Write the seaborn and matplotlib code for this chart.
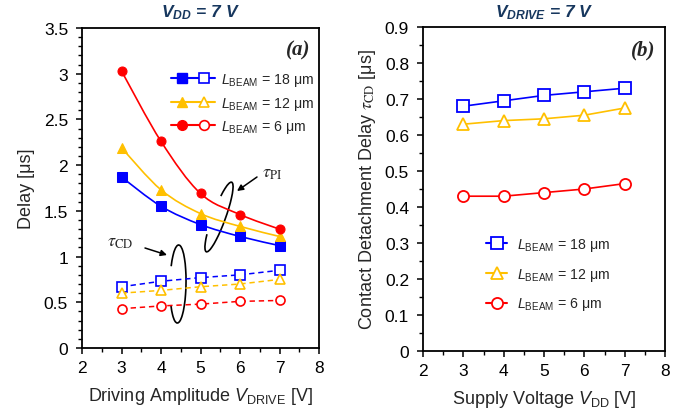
import numpy as np
import matplotlib
matplotlib.use("Agg")
import matplotlib.pyplot as plt
import matplotlib.transforms as mtransforms
from matplotlib.path import Path
from matplotlib.patches import PathPatch, Arc
from matplotlib.lines import Line2D
from matplotlib.legend_handler import HandlerTuple
import seaborn as sns

# ---- data ----
v_drive = [3, 4, 5, 6, 7]
v_dd = [3, 4, 5, 6, 7]

# (a) pull-in delay tau_PI (solid, filled markers)
pi_18 = [1.87, 1.55, 1.35, 1.22, 1.12]
pi_12 = [2.19, 1.73, 1.47, 1.33, 1.22]
pi_6 = [3.03, 2.26, 1.69, 1.46, 1.30]

# (a) contact detachment delay tau_CD (dashed, open markers)
cd_18 = [0.67, 0.73, 0.77, 0.80, 0.85]
cd_12 = [0.60, 0.63, 0.67, 0.70, 0.75]
cd_6 = [0.43, 0.46, 0.48, 0.51, 0.52]

# (b) tau_CD vs supply voltage
b_18 = [0.68, 0.695, 0.71, 0.72, 0.73]
b_12 = [0.63, 0.64, 0.645, 0.655, 0.675]
b_6 = [0.43, 0.43, 0.44, 0.45, 0.465]

labels = [r"$\mathit{L}_{\mathrm{BEAM}}$ = 18 μm",
          r"$\mathit{L}_{\mathrm{BEAM}}$ = 12 μm",
          r"$\mathit{L}_{\mathrm{BEAM}}$ = 6 μm"]

BLUE = "#0000FF"
YELLOW = "#FFC000"
RED = "#FF0000"
NAVY = "#17375E"
colors = [BLUE, YELLOW, RED]
markers = ["s", "^", "o"]

sns.set_theme(style="ticks")
plt.rcParams["font.family"] = ["Liberation Sans", "DejaVu Sans"]
plt.rcParams.update({
    "mathtext.fontset": "custom",
    "mathtext.rm": "Liberation Sans",
    "mathtext.it": "Liberation Sans:italic",
    "mathtext.bf": "Liberation Sans:bold",
    "mathtext.bfit": "Liberation Sans:italic:bold",
    "axes.edgecolor": "black",
    "axes.linewidth": 1.3,
    "xtick.color": "black",
    "ytick.color": "black",
    "xtick.major.size": 4,
    "ytick.major.size": 4,
    "xtick.minor.size": 3,
    "ytick.minor.size": 3,
    "xtick.major.width": 1.1,
    "ytick.major.width": 1.1,
    "xtick.minor.width": 1.0,
    "ytick.minor.width": 1.0,
})


def smooth_path(x, y):
    # Excel-like smoothed line: Catmull-Rom converted to cubic Beziers
    pts = np.column_stack([x, y]).astype(float)
    ext = np.vstack([pts[0], pts, pts[-1]])
    verts = [pts[0]]
    codes = [Path.MOVETO]
    for i in range(1, len(ext) - 2):
        p0, p1, p2, p3 = ext[i - 1], ext[i], ext[i + 1], ext[i + 2]
        verts += [p1 + (p2 - p0) / 6, p2 - (p3 - p1) / 6, p2]
        codes += [Path.CURVE4] * 3
    return Path(verts, codes)


fig = plt.figure(figsize=(6.93, 4.14), dpi=100)
W, H = 693, 414
ax1 = fig.add_axes([82 / W, 1 - 349 / H, 237 / W, 320 / H])
ax2 = fig.add_axes([423 / W, 1 - 352 / H, 242 / W, 324 / H])

# ---------------- panel (a) ----------------
for ys, c, m in zip([pi_18, pi_12, pi_6], colors, markers):
    ax1.add_patch(PathPatch(smooth_path(v_drive, ys), fill=False,
                            edgecolor=c, lw=1.2, zorder=2))
    sns.lineplot(x=v_drive, y=ys, ax=ax1, color=c, linestyle="none",
                 marker=m, markersize=6.5, markerfacecolor=c,
                 markeredgecolor=c, zorder=3)

for ys, c, m in zip([cd_18, cd_12, cd_6], colors, markers):
    sns.lineplot(x=v_drive, y=ys, ax=ax1, color=c, lw=1.1,
                 dashes=(3.5, 2.5), marker=m, markersize=6.5,
                 markerfacecolor="white", markeredgecolor=c,
                 markeredgewidth=1.2, zorder=3)

ax1.set_xlim(2, 8)
ax1.set_ylim(0, 3.5)
ax1.set_xticks(range(2, 9))
ax1.set_xticks(np.arange(2, 8.01, 0.5), minor=True)
ax1.set_yticks(np.arange(0, 3.51, 0.5))
ax1.set_yticks(np.arange(0, 3.51, 0.1), minor=True)
ax1.set_yticklabels(["0", "0.5", "1", "1.5", "2", "2.5", "3", "3.5"])
ax1.set_xlabel(r"Driving Amplitude $\mathit{V}_{\mathrm{DRIVE}}$ [V]",
               fontsize=13, labelpad=7)
ax1.set_ylabel("Delay [μs]", fontsize=13, labelpad=6)
ax1.text(0.962, 0.934, "(a)", transform=ax1.transAxes, ha="right",
         va="center", fontsize=15, fontweight="bold", style="italic",
         family="Liberation Serif")

handles = []
for c, m in zip(colors, markers):
    h_fill = Line2D([], [], color=c, lw=1.5, marker=m, markersize=7,
                    markerfacecolor=c, markeredgecolor=c)
    h_open = Line2D([], [], color=c, lw=1.5, marker=m, markersize=7,
                    markerfacecolor="white", markeredgecolor=c,
                    markeredgewidth=1.2)
    handles.append((h_fill, h_open))
ax1.legend(handles, labels, handler_map={tuple: HandlerTuple(ndivide=2, pad=0)},
           numpoints=1, loc="upper left", bbox_to_anchor=(0.376, 0.865),
           frameon=False, fontsize=10.2, handlelength=3.1, handletextpad=0.45,
           borderpad=0, borderaxespad=0, labelspacing=0.45)

# annotation loops (drawn in pixel space so the tilt matches the reference)
for (cx, cy, w, h, ang, t1, t2) in [(219, 218, 74, 13, 70, 165, 375),
                                    (178, 285, 78, 16, 89, 163, 382)]:
    ax1.add_patch(Arc((cx, H - cy), w, h, angle=ang, theta1=t1, theta2=t2,
                      transform=mtransforms.IdentityTransform(),
                      color="black", lw=1.2, clip_on=False))

px2data = ax1.transData.inverted()
def pxd(x, y):
    return tuple(px2data.transform((x, H - y)))

ax1.annotate("", xy=pxd(237, 192), xytext=pxd(257, 178),
             arrowprops=dict(arrowstyle="-|>", color="black", lw=1.1,
                             mutation_scale=9, shrinkA=0, shrinkB=0))
ax1.annotate("", xy=pxd(167, 256), xytext=pxd(145, 249),
             arrowprops=dict(arrowstyle="-|>", color="black", lw=1.1,
                             mutation_scale=9, shrinkA=0, shrinkB=0))
ax1.text(*pxd(262, 178), r"$\tau_{\mathrm{PI}}$", fontsize=13,
         math_fontfamily="stix", ha="left", va="baseline")
ax1.text(*pxd(107, 247), r"$\tau_{\mathrm{CD}}$", fontsize=13,
         math_fontfamily="stix", ha="left", va="baseline")

# ---------------- panel (b) ----------------
for ys, c, m in zip([b_18, b_12, b_6], colors, markers):
    sns.lineplot(x=v_dd, y=ys, ax=ax2, color=c, lw=1.2, marker=m,
                 markersize=8, markerfacecolor="white", markeredgecolor=c,
                 markeredgewidth=1.3, zorder=3)

ax2.set_xlim(2, 8)
ax2.set_ylim(0, 0.9)
ax2.set_xticks(range(2, 9))
ax2.set_xticks(np.arange(2, 8.01, 0.5), minor=True)
ax2.set_yticks(np.arange(0, 0.91, 0.1))
ax2.set_yticks(np.arange(0, 0.91, 0.05), minor=True)
ax2.set_yticklabels(["0", "0.1", "0.2", "0.3", "0.4", "0.5", "0.6", "0.7",
                     "0.8", "0.9"])
ax2.set_xlabel(r"Supply Voltage $\mathit{V}_{\mathrm{DD}}$ [V]",
               fontsize=13, labelpad=7)
ax2.set_ylabel(r"Contact Detachment Delay $\tau_{\mathrm{CD}}$ [μs]",
               fontsize=13, labelpad=5, math_fontfamily="stix")
ax2.text(0.959, 0.932, "(b)", transform=ax2.transAxes, ha="right",
         va="center", fontsize=15, fontweight="bold", style="italic",
         family="Liberation Serif")

handles_b = [Line2D([], [], color=c, lw=1.5, marker=m, markersize=8,
                    markerfacecolor="white", markeredgecolor=c,
                    markeredgewidth=1.3) for c, m in zip(colors, markers)]
ax2.legend(handles_b, labels, numpoints=1, loc="upper left",
           bbox_to_anchor=(0.262, 0.355), frameon=False, fontsize=10.2,
           handlelength=1.45, handletextpad=0.7, borderpad=0,
           borderaxespad=0, labelspacing=0.9)

for ax in (ax1, ax2):
    sns.despine(ax=ax, top=False, right=False)
    ax.tick_params(axis="both", which="both", direction="out", labelsize=12.5,
                   top=False, right=False)
    ax.tick_params(axis="y", which="major", pad=6)
    ax.tick_params(axis="x", which="major", pad=5)

# panel titles
fig.text(200 / W, 1 - 13 / H, r"$\mathbfit{V}_{\mathbfit{DD}}$ = 7 V",
         ha="center", va="center", fontsize=12.5, color=NAVY,
         fontweight="bold", style="italic")
fig.text(544 / W, 1 - 13 / H, r"$\mathbfit{V}_{\mathbfit{DRIVE}}$ = 7 V",
         ha="center", va="center", fontsize=12.5, color=NAVY,
         fontweight="bold", style="italic")

fig.savefig("out.png", dpi=100)
plt.close(fig)
